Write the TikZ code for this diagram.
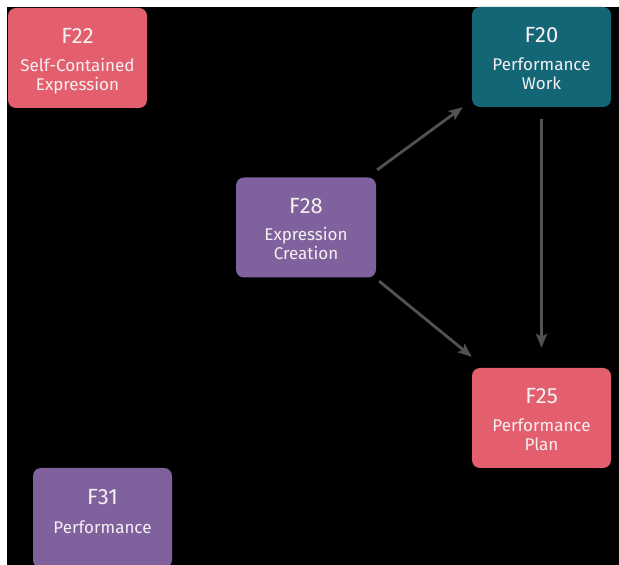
\documentclass[tikz,border=0pt]{standalone}
\usepackage{fontspec}
\setmainfont{Fira Sans}
\usetikzlibrary{arrows.meta}
\definecolor{boxpink}{RGB}{227,95,110}
\definecolor{boxteal}{RGB}{19,102,118}
\definecolor{boxpurple}{RGB}{127,98,157}
\definecolor{arrowgrey}{RGB}{82,82,82}
\definecolor{boxtext}{RGB}{246,240,242}
\tikzset{
  fbox/.style={rectangle, rounded corners=8pt, minimum width=139pt, minimum height=100pt,
    inner sep=0pt, align=center, text=boxtext, font=\fontsize{17}{19}\selectfont,
    text height=65pt, text depth=0pt},
  arr/.style={draw=arrowgrey, line width=2.8pt, -{Stealth[length=14pt,width=11pt,inset=3pt]}}
}
\newcommand{\ftitle}[1]{{\fontsize{22}{19}\selectfont #1}}
\begin{document}
\begin{tikzpicture}[x=1pt,y=1pt]
\useasboundingbox (0,0) rectangle (619,565);
\clip (0,0) rectangle (619,565);
\fill[white] (0,0) rectangle (619,565);
\fill[black] (7,0) rectangle (619,558);
\node[fbox, fill=boxpink] (f22) at (77.5,507) {\ftitle{F22}\\[8.7pt]Self-Contained\\Expression};
\node[fbox, fill=boxteal] (f20) at (541.5,508) {\ftitle{F20}\\[8.7pt]Performance\\Work};
\node[fbox, fill=boxpurple, minimum width=140pt] (f28) at (306,337.5) {\ftitle{F28}\\[8.7pt]Expression\\Creation};
\node[fbox, fill=boxpink] (f25) at (541.5,147) {\ftitle{F25}\\[8.7pt]Performance\\Plan};
\node[fbox, fill=boxpurple, text height=32pt] (f31) at (102.5,47) {\ftitle{F31}\\[10pt]Performance};
\draw[arr] ([shift={(1pt,7.5pt)}]f28.north east) -- ([shift={(-9pt,0pt)}]f20.south west);
\draw[arr] ([shift={(3pt,-3.5pt)}]f28.south east) -- ([shift={(0pt,11pt)}]f25.north west);
\draw[arr] ([yshift=-12pt]f20.south) -- ([yshift=20pt]f25.north);
\end{tikzpicture}
\end{document}
